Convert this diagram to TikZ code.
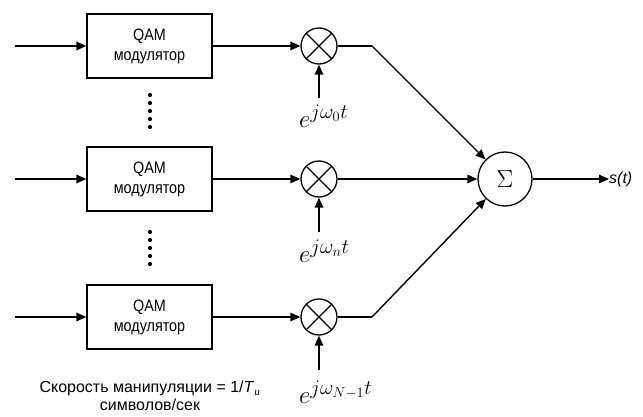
\documentclass[tikz,border=0pt]{standalone}
\usepackage{fontspec}
\setmainfont{Liberation Sans}
\newfontfamily\narrowsans[FakeStretch=0.87]{Liberation Sans}
\newfontfamily\serifcyr{Liberation Serif}
\usetikzlibrary{arrows.meta,calc}
\begin{document}
\begin{tikzpicture}[x=1pt,y=-1pt,
  sig/.style={line width=1.4pt,-{Triangle[length=10pt,width=8.5pt]}},
  wire/.style={line width=1.4pt},
  modbox/.style={draw,line width=1.2pt,minimum width=125pt,minimum height=64pt,inner sep=0pt,align=center,font=\narrowsans\fontsize{16.5}{20}\selectfont},
  mult/.style={draw,circle,line width=1.3pt,minimum size=36pt,inner sep=0pt,path picture={
      \draw[line width=1.2pt] (path picture bounding box.north west) -- (path picture bounding box.south east)
        (path picture bounding box.north east) -- (path picture bounding box.south west);}},
  sumnode/.style={draw,circle,line width=1.3pt,minimum size=54pt,inner sep=0pt,font=\fontsize{24}{26}\selectfont},
  explabel/.style={anchor=north west,inner sep=0pt,font=\fontsize{30}{32}\selectfont},
  dotc/.style={fill,circle,inner sep=0pt,minimum size=4.2pt}
]
\useasboundingbox (0,0) rectangle (643,417);

% boxes
\node[modbox] (b1) at (149.5,46) {QAM\\модулятор};
\node[modbox] (b2) at (149.5,179) {QAM\\модулятор};
\node[modbox] (b3) at (149.5,317) {QAM\\модулятор};

% inputs
\coordinate (i1) at (15,46);
\coordinate (i2) at (15,179);
\coordinate (i3) at (15,317);
\draw[sig] (i1) -- (b1);
\draw[sig] (i2) -- (b2);
\draw[sig] (i3) -- (b3);

% multipliers
\node[mult] (m1) at (319,46) {};
\node[mult] (m2) at (319,179) {};
\node[mult] (m3) at (319,317) {};
\draw[sig] (b1) -- (m1);
\draw[sig] (b2) -- (m2);
\draw[sig] (b3) -- (m3);

% carrier arrows and labels
\coordinate (a1) at (319,98);
\coordinate (a2) at (319,232);
\coordinate (a3) at (319,370);
\draw[sig] (a1) -- (m1);
\draw[sig] (a2) -- (m2);
\draw[sig] (a3) -- (m3);
\node[explabel] (l1) at (299,105) {$e^{j\omega_0 t}$};
\node[explabel] (l2) at (299,240) {$e^{j\omega_n t}$};
\node[explabel] (l3) at (299,381) {$e^{j\omega_{N-1} t}$};

% dots
\foreach \yy in {95,103,111,119,127}{\node[dotc] at (150,\yy) {};}
\foreach \yy in {232,240,248,256,264}{\node[dotc] at (150,\yy) {};}

% sum
\node[sumnode] (sum) at (505,179) {$\Sigma$};
\coordinate (c1) at (372,46);
\coordinate (c3) at (372,317);
\draw[wire] (m1) -- (c1);
\draw[sig] (c1) -- (sum);
\draw[sig] (m2) -- (sum);
\draw[wire] (m3) -- (c3);
\draw[sig] (c3) -- (sum);

% output
\node[anchor=west,inner sep=0pt,font=\fontsize{16}{18}\selectfont\itshape] (out) at (609,179) {s(t)};
\draw[sig] (sum) -- (out);

% bottom text
\node[align=center,inner sep=0pt,font=\fontsize{16}{18.5}\selectfont] (rate) at (150,396)
  {Скорость манипуляции = 1/\textit{T}\textsubscript{\serifcyr\itshape и}\\символов/сек};
\end{tikzpicture}
\end{document}
